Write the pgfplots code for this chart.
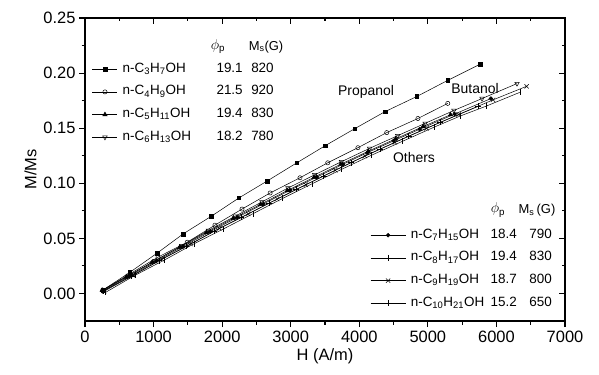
\documentclass[border=0pt]{standalone}
\usepackage{pgfplots}
\pgfplotsset{compat=1.18}
\usepackage{fontspec}
\setmainfont{Liberation Sans}
\begin{document}
\begin{tikzpicture}
\pgfplotsset{
  common/.style={
    scale only axis, width=480bp, height=303bp,
    at={(0,0)}, anchor=south west,
    xmin=0, xmax=7000, ymin=-0.025, ymax=0.25,
    xtick={0,1000,2000,3000,4000,5000,6000,7000},
    ytick={0,0.05,0.1,0.15,0.2,0.25},
    minor x tick num=1, minor y tick num=1,
    scaled y ticks=false, scaled x ticks=false,
    axis line style={line width=1.1bp},
    every tick/.style={line width=1.1bp, black},
    major tick length=6bp, minor tick length=3.5bp,
    clip=false,
    every axis plot/.append style={black, line width=0.5bp, mark options={solid}},
  },
  leg/.style={legend cell align=left,
    legend style={draw=none, fill=none, inner sep=0pt, row sep=10.7bp,
      font=\fontsize{13.5}{14}\selectfont,
      nodes={inner sep=0pt, text height=9bp, text depth=3bp},
      /tikz/column sep=5bp}},
}
\begin{axis}[common, name=main, tick pos=left, tick align=outside,
  tick label style={font=\fontsize{16.5}{18}\selectfont},
  /pgf/number format/assume math mode=true,
  yticklabel style={/pgf/number format/.cd, fixed, fixed zerofill, precision=2},
  xticklabel style={/pgf/number format/1000 sep={}},
  xlabel={H (A/m)}, ylabel={M/Ms},
  label style={font=\fontsize{16.5}{18}\selectfont},
  leg, legend style={at={(0.0146,0.8515)}, anchor=north west},
  legend image code/.code={\draw[mark repeat=2,mark phase=2] plot coordinates {(0bp,0bp) (12.5bp,0bp) (25bp,0bp)};},
]
\addplot[mark=square*, mark size=1.8bp] coordinates {
(260,0.003) (650,0.019) (1050,0.0365) (1430,0.054) (1840,0.070) (2245,0.0867) (2655,0.102) (3090,0.1186) (3500,0.134) (3935,0.1496) (4375,0.165) (4840,0.1788) (5290,0.1934) (5760,0.208)};
\addlegendentry{\makebox[95bp][l]{n-C\textsubscript{3}H\textsubscript{7}OH}\makebox[25bp][r]{19.1}\makebox[31bp][r]{820}}
\addplot[mark=o, mark size=2.1bp] coordinates {
(260,0.003) (660,0.018) (1065,0.033) (1490,0.0465) (1895,0.062) (2290,0.0766) (2700,0.0912) (3135,0.105) (3540,0.1186) (3980,0.1323) (4400,0.146) (4855,0.1588) (5290,0.1725)};
\addlegendentry{\makebox[95bp][l]{n-C\textsubscript{4}H\textsubscript{9}OH}\makebox[25bp][r]{21.5}\makebox[31bp][r]{920}}
\addplot[mark=triangle*, mark size=2.5bp] coordinates {
(250,0.003) (600,0.0149) (980,0.0283) (1380,0.0419) (1770,0.0552) (2160,0.0681) (2560,0.0809) (2950,0.0934) (3340,0.1054) (3730,0.1173) (4130,0.1291) (4530,0.1403) (4930,0.1515) (5330,0.1622)};
\addlegendentry{\makebox[95bp][l]{n-C\textsubscript{5}H\textsubscript{11}OH}\makebox[25bp][r]{19.4}\makebox[31bp][r]{830}}
\addplot[mark=triangle, mark size=2.6bp, mark options={rotate=180}] coordinates {
(270,0.003) (640,0.0163) (1020,0.0297) (1410,0.0434) (1800,0.0572) (2190,0.0701) (2580,0.0831) (2960,0.0957) (3350,0.1077) (3740,0.1196) (4150,0.1317) (4560,0.1432) (4960,0.1544) (5380,0.1661) (5790,0.1769) (6300,0.1905)};
\addlegendentry{\makebox[95bp][l]{n-C\textsubscript{6}H\textsubscript{13}OH}\makebox[25bp][r]{18.2}\makebox[31bp][r]{780}}
\node[font=\fontsize{14}{14}\selectfont] at (axis cs:4098,0.183) {Propanol};
\node[font=\fontsize{14}{14}\selectfont] at (axis cs:5688,0.1857) {Butanol};
\node[font=\fontsize{14}{14}\selectfont] at (axis cs:4798,0.123) {Others};
\node[font=\fontsize{14}{14}\selectfont] at (axis cs:1940,0.2239) {$\phi_{\mathrm{p}}$};
\node[font=\fontsize{13}{13}\selectfont] at (axis cs:2640,0.2239) {M\textsubscript{s}(G)};
\node[font=\fontsize{14}{14}\selectfont] at (axis cs:6023,0.0757) {$\phi_{\mathrm{p}}$};
\node[font=\fontsize{13}{13}\selectfont] at (axis cs:6592,0.0757) {M\textsubscript{s}\,(G)};
\end{axis}
\begin{axis}[common, tick pos=right, tick align=inside,
  xticklabels={}, yticklabels={},
  leg, legend style={at={(0.594,0.3036)}, anchor=north west},
  legend image code/.code={\draw[mark repeat=2,mark phase=2] plot coordinates {(0bp,0bp) (17.5bp,0bp) (35bp,0bp)};},
]
\addplot[mark=*, mark size=1.9bp] coordinates {
(260,0.002) (650,0.0157) (1040,0.0294) (1430,0.0426) (1830,0.0562) (2220,0.0690) (2600,0.0812) (2990,0.0937) (3380,0.1056) (3760,0.1172) (4120,0.1279) (4500,0.1385) (4880,0.1491) (5390,0.1628) (5920,0.1769)};
\addlegendentry{\makebox[85bp][l]{n-C\textsubscript{7}H\textsubscript{15}OH}\makebox[21bp][r]{18.4}\makebox[35bp][r]{790}}
\addplot[mark=+, mark size=3bp] coordinates {
(260,0.002) (680,0.0158) (1080,0.0297) (1480,0.0428) (1880,0.0564) (2280,0.0690) (2680,0.0818) (3080,0.0944) (3480,0.1066) (3880,0.1188) (4300,0.1309) (4720,0.1427) (5180,0.1553) (5730,0.1698)};
\addlegendentry{\makebox[85bp][l]{n-C\textsubscript{8}H\textsubscript{17}OH}\makebox[21bp][r]{19.4}\makebox[35bp][r]{830}}
\addplot[mark=x, mark size=3bp] coordinates {
(280,0.002) (700,0.0165) (1120,0.0311) (1540,0.0449) (1960,0.0591) (2380,0.0722) (2800,0.0856) (3220,0.0987) (3650,0.1118) (4080,0.1247) (4520,0.1371) (4980,0.1499) (5450,0.1624) (5950,0.1757) (6440,0.188)};
\addlegendentry{\makebox[85bp][l]{n-C\textsubscript{9}H\textsubscript{19}OH}\makebox[21bp][r]{18.7}\makebox[35bp][r]{800}}
\addplot[mark=|, mark size=3bp] coordinates {
(300,0.001) (730,0.0165) (1160,0.0304) (1590,0.0451) (2020,0.0586) (2450,0.0724) (2880,0.0862) (3310,0.0995) (3740,0.1126) (4180,0.1255) (4630,0.1381) (5090,0.1509) (5470,0.1610) (5850,0.1700) (6340,0.1825)};
\addlegendentry{\makebox[85bp][l]{n-C\textsubscript{10}H\textsubscript{21}OH}\makebox[21bp][r]{15.2}\makebox[35bp][r]{650}}
\end{axis}
\path[use as bounding box] ([shift={(-85bp,-53bp)}]main.south west) rectangle ([shift={(34bp,18bp)}]main.north east);
\end{tikzpicture}
\end{document}
